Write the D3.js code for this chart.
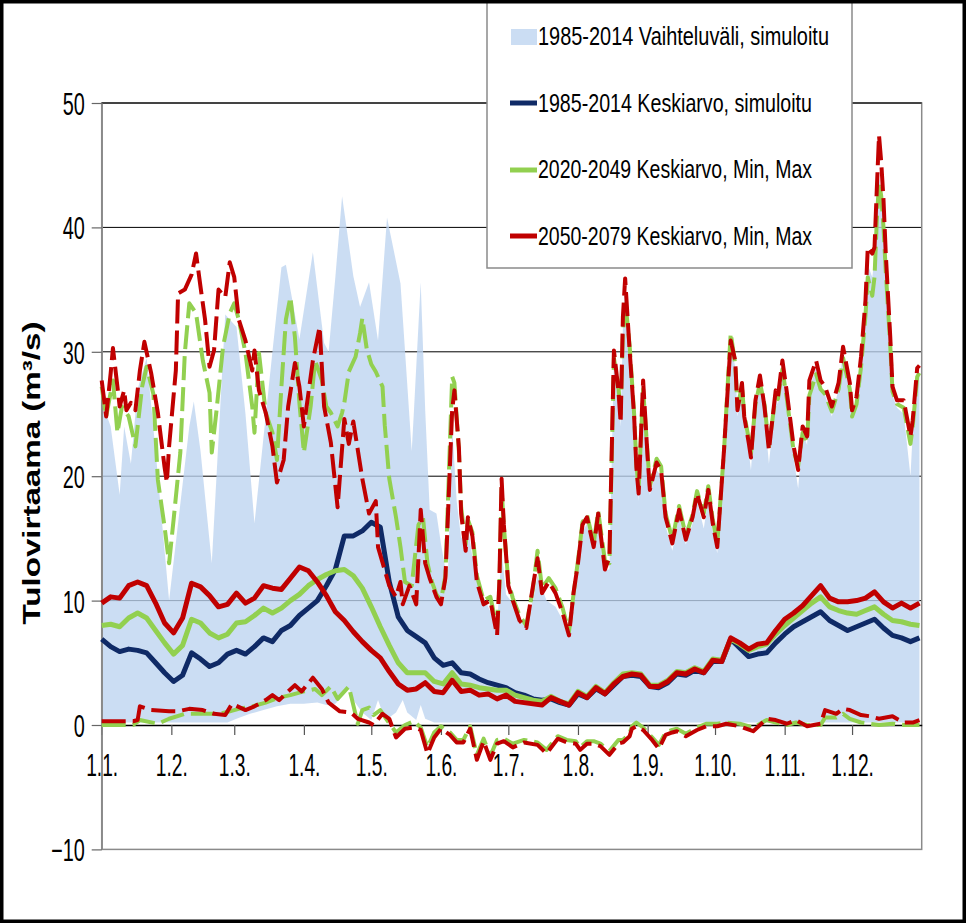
<!DOCTYPE html>
<html><head><meta charset="utf-8">
<script src="https://cdn.jsdelivr.net/npm/d3@7"></script>
<style>html,body{margin:0;padding:0;background:#fff;} svg{display:block;}</style>
</head><body><svg id="c" width="968" height="923"></svg>
<script>
// ---------- data ----------
const monthDays = [0,31,59,90,120,151,181,212,243,273,304,334];
const monthLabels = ["1.1.","1.2.","1.3.","1.4.","1.5.","1.6.","1.7.","1.8.","1.9.","1.10.","1.11.","1.12."];
const yTicks = [-10,0,10,20,30,40,50];
const gridValues = [10,20,30,40,50];
const legendLabels = ["1985-2014 Vaihteluväli, simuloitu","1985-2014 Keskiarvo, simuloitu","2020-2049 Keskiarvo, Min, Max","2050-2079 Keskiarvo, Min, Max"];

const meanDays = [0,4,8,12,16,20,24,28,32,36,
  40,44,48,52,56,60,64,68,72,76,
  80,84,88,92,96,100,104,108,112,116,
  120,124,128,132,136,140,144,148,152,156,
  160,164,168,172,176,180,184,188,192,196,
  200,204,208,212,216,220,224,228,232,236,
  240,244,248,252,256,260,264,268,272,276,
  280,284,288,292,296,300,304,308,312,316,
  320,324,328,332,336,340,344,348,352,356,
  360,364];

const blueMean = [6.9,6.3,5.9,6.1,6.0,5.8,5.0,4.2,3.5,4.0,
  5.8,5.3,4.7,5.0,5.7,6.0,5.7,6.3,7.0,6.7,
  7.6,8.0,8.8,9.4,10.0,11.2,12.5,15.2,15.2,15.6,
  16.3,15.9,11.5,8.7,7.6,7.1,6.6,5.4,4.8,5.0,
  4.2,4.1,3.7,3.4,3.2,3.0,2.6,2.4,2.1,2.0,
  2.1,1.8,1.6,2.5,2.2,2.9,2.5,3.2,3.9,4.0,
  3.9,3.1,3.0,3.4,4.1,4.0,4.4,4.2,5.1,5.1,
  6.9,6.2,5.5,5.7,5.8,6.6,7.3,7.9,8.3,8.7,
  9.1,8.4,8.0,7.6,7.9,8.2,8.5,7.8,7.2,7.0,
  6.7,7.0];

const greenMean = [8.0,8.1,7.9,8.6,9.0,8.6,7.6,6.6,5.7,6.4,
  8.5,8.2,7.4,7.0,7.3,8.2,8.3,8.8,9.4,9.0,
  9.4,10.0,10.5,11.2,11.7,12.1,12.4,12.5,12.0,11.0,
  9.5,7.9,6.4,5.0,4.2,4.2,4.2,3.5,3.3,4.2,
  3.3,3.2,3.0,2.9,2.8,2.8,2.4,2.2,2.0,1.9,
  2.3,1.9,1.7,2.7,2.3,3.1,2.6,3.4,4.1,4.2,
  4.1,3.2,3.2,3.6,4.3,4.2,4.6,4.3,5.3,5.2,
  6.9,6.5,6.0,6.3,6.5,7.3,8.0,8.6,9.2,9.8,
  10.3,9.5,9.2,9.0,8.9,9.2,9.5,8.9,8.4,8.3,
  8.1,8.0];

const redMean = [9.8,10.3,10.2,11.2,11.5,11.2,9.8,8.2,7.4,8.6,
  11.4,11.1,10.4,9.5,9.7,10.6,9.8,10.2,11.2,11.0,
  10.9,11.8,12.7,12.4,11.5,10.4,9.1,8.4,7.5,6.7,
  6.0,5.4,4.3,3.3,2.8,2.9,3.4,2.7,2.6,3.6,
  2.7,2.8,2.4,2.5,2.1,2.4,1.9,1.8,1.7,1.6,
  2.2,1.9,1.6,2.6,2.2,3.0,2.5,3.3,3.9,4.1,
  4.0,3.1,3.1,3.5,4.2,4.1,4.5,4.2,5.2,5.1,
  7.0,6.6,6.1,6.5,6.6,7.6,8.5,9.0,9.6,10.4,
  11.2,10.2,9.9,9.9,10.0,10.2,10.7,9.9,9.4,9.8,
  9.4,9.8];

// [day, value] pairs
const rangeMax = [[0,26],[4,24],[8,18.5],[10,24],[13,21],[16,27],[20,29.5],[24,22],[30,10.0],[39,24],[41,26],[44,22],[49,13],[55,33],[60,32],[64,25],[68,16.2],[76,30],[80,36.8],[82,37],[88,31],[94,38],[99,30.7],[101,30],[104,36],[107,42.5],[112,36.1],[115,33.6],[119,35.6],[123,30.9],[127,40.8],[133,35.5],[138,22.0],[139,25.3],[142,35.6],[144,25.3],[146,17.3],[149,17.0],[151,14.6],[154,11.5],[156,24],[158,18],[160,15],[163,16],[165,13.5],[168,11],[172,9.5],[176,8],[178,14],[180,10.5],[184,9.5],[188,8],[192,10],[194,12],[198,10],[202,9.5],[205,8.5],[208,7],[212,12.5],[214,15.5],[216,16.2],[219,14],[221,16.5],[224,12.5],[226,12.5],[228,29.5],[230,26.5],[231,24],[232,32],[233,35.3],[235,29.5],[237,24],[239,18],[241,27],[243,21],[244,18.5],[247,20.5],[249,20],[251,16],[254,14],[257,16.8],[260,14.5],[263,16.2],[265,18],[268,15.8],[270,18.2],[272,15.6],[274,13.8],[277,21.5],[279,27.5],[280,30.5],[282,28.8],[283,24.8],[285,27],[286,24.3],[288,22],[289,20.5],[291,25.5],[293,27.5],[295,25],[297,21],[300,26.3],[301,25.8],[303,28.8],[305,26.2],[308,21.5],[310,19],[312,23.5],[314,22.5],[315,27],[318,28.8],[320,27],[322,26.5],[325,24.8],[328,27],[330,30],[333,27],[334,24.8],[336,25.8],[338,29],[340,33.5],[341,37],[343,36],[344,37.5],[345,42],[346,44],[347,43],[348,40],[349,36],[351,30],[352,26.5],[354,25.5],[357,25],[360,20],[361,23.5],[363,28],[364,28]];

const rangeMin = [[0,0.2],[56,0.2],[60,0.5],[66,0.9],[72,1.2],[78,1.5],[84,1.7],[90,1.7],[96,1.8],[100,1.6],[104,1.7],[108,2.5],[110,3.0],[112,2.0],[116,1.0],[120,0.4],[123,2.0],[125,1.0],[128,0.6],[131,1.0],[134,2.0],[136,1.0],[140,0.4],[142,1.6],[144,0.5],[148,0.2],[200,0.2],[260,0.2],[364,0.2]];

const greenMax = [[0,27.2],[2,24.8],[5,27.7],[7,23.5],[9,25.6],[12,24.8],[15,22.4],[18,27.2],[20,28.8],[23,26.6],[25,19.7],[28,15.9],[30,13.0],[32,16.5],[35,21.9],[37,29.9],[39,33.9],[42,33.1],[45,29.3],[48,26.7],[49,21.9],[51,25.1],[54,30.4],[57,33.1],[59,33.9],[61,32.6],[64,29.9],[67,25.6],[68,23.5],[70,29.9],[73,25.1],[76,23.5],[78,21.3],[80,27.2],[82,32.6],[84,34.4],[86,31.2],[88,25.9],[90,21.9],[93,25.6],[95,29.3],[98,27.7],[100,25.6],[102,25.1],[105,24.0],[107,25.1],[108,25.9],[110,28.4],[113,29.6],[115,31.5],[116,32.7],[118,30.2],[120,29.0],[122,28.4],[125,27.2],[126,24.1],[128,19.8],[131,16.7],[133,14.3],[135,11.5],[138,11.2],[141,16.1],[143,16.7],[145,13.0],[147,11.5],[149,10.5],[151,10.0],[153,12.0],[156,28.0],[157,27.5],[159,22.0],[160,17.5],[162,14.5],[163,16.5],[165,15.5],[167,12.0],[170,10.0],[173,10.3],[176,7.8],[177,11.0],[178,19.0],[179,16.0],[181,11.5],[183,10.2],[186,8.8],[189,8.0],[192,11.0],[194,14.0],[196,11.0],[199,11.8],[202,11.0],[205,9.5],[208,7.5],[210,10.5],[212,13.2],[214,16.3],[216,16.9],[219,14.6],[221,17.2],[224,13.2],[226,13.0],[228,29.5],[230,27.2],[231,25.0],[232,31.5],[233,34.2],[235,30.5],[237,25.0],[238,21.0],[239,19.0],[241,27.0],[243,21.8],[244,19.2],[247,21.4],[249,20.8],[251,17.0],[254,14.9],[257,17.6],[260,15.2],[263,16.9],[265,18.8],[268,17.0],[270,19.2],[272,16.5],[274,14.6],[277,22.0],[279,28.5],[280,31.5],[282,29.0],[283,25.6],[285,27.2],[286,25.0],[288,23.0],[289,21.8],[291,25.8],[293,27.5],[295,25.8],[297,22.4],[300,26.5],[301,26.2],[303,28.6],[305,26.2],[308,22.0],[310,20.8],[312,23.5],[314,22.8],[315,26.5],[318,28.2],[320,27.0],[322,26.6],[325,25.2],[328,27.0],[330,29.5],[333,27.0],[334,24.8],[336,25.8],[338,28.8],[340,33.0],[341,36.0],[343,34.5],[344,36.0],[345,40.5],[346,43.6],[347,42.5],[348,40.0],[349,36.5],[351,30.5],[352,26.8],[354,25.8],[357,25.5],[360,22.6],[361,24.0],[363,28.0],[364,28.3]];

const redMax = [[0,27.7],[2,24.8],[4,28.3],[5,30.3],[7,27.2],[8,25.6],[10,26.9],[11,25.3],[13,25.9],[15,25.3],[17,28.5],[19,30.8],[22,28.3],[25,25.1],[28,20.7],[29,19.5],[30,22.4],[33,28.5],[34,34.7],[37,35],[40,36.2],[42,37.9],[44,35.2],[46,32.6],[48,28.8],[50,30.1],[52,35],[55,34.4],[57,37.2],[59,36],[61,32.6],[64,30.9],[67,28.5],[68,30.1],[70,26.9],[73,25.1],[76,22.4],[78,19.5],[81,21.3],[83,25.6],[86,29.1],[88,27.2],[90,24],[94,29.3],[97,32],[99,25.6],[102,22.7],[105,17.5],[108,24.6],[110,22.6],[112,24.4],[116,19.8],[119,17.0],[122,18.0],[123,14.3],[128,11.2],[131,10.3],[133,11.5],[134,9.7],[137,11.2],[140,9.7],[142,17.3],[144,13.0],[146,11.8],[149,10.3],[151,9.7],[153,11.8],[156,25.3],[157,26.9],[159,22.3],[160,17.0],[162,14.0],[163,16.7],[165,15.2],[167,11.5],[170,9.7],[173,10.0],[176,7.2],[177,11.5],[178,19.8],[179,16.1],[181,11.2],[183,10.0],[186,8.4],[189,7.8],[192,11.2],[194,13.4],[196,10.6],[199,11.5],[202,10.6],[205,9.1],[208,7.2],[210,10.6],[212,13.0],[214,16.1],[216,16.7],[219,14.3],[221,17.0],[224,12.5],[226,13.5],[228,30.1],[230,26.9],[231,24.3],[232,32.8],[233,35.9],[235,30.1],[237,24.8],[238,20.7],[239,18.6],[241,27.7],[243,21.5],[244,18.9],[247,21.1],[249,20.5],[251,16.7],[254,14.6],[257,17.3],[260,14.9],[263,16.7],[265,18.6],[268,16.7],[270,18.9],[272,16.2],[274,14.3],[277,22.1],[279,28.0],[280,30.9],[282,29.3],[283,25.3],[285,27.5],[286,24.8],[288,22.7],[289,21.5],[291,26.1],[293,28.1],[295,25.6],[297,22.1],[300,26.9],[301,26.4],[303,29.3],[305,26.7],[308,22.4],[310,20.5],[312,24.0],[314,23.2],[315,27.7],[318,29.3],[320,27.7],[322,27.2],[325,25.6],[328,27.5],[330,30.4],[333,27.5],[334,25.3],[336,26.4],[338,29.6],[340,34.2],[341,38.4],[343,37.9],[344,38.4],[345,43.0],[346,47.4],[347,45.2],[348,42.2],[349,37.9],[351,31.2],[352,27.2],[354,26.1],[357,26.1],[360,23.2],[361,24.5],[363,28.7],[364,28.9]];

const greenMin = [[0,0.0],[14,0.0],[17,0.4],[25,0.1],[30,0.5],[37,0.9],[45,0.9],[52,0.9],[57,1.1],[61,1.3],[67,1.5],[73,1.8],[79,2.2],[84,2.4],[90,2.7],[95,2.9],[98,2.4],[102,3.1],[105,2.1],[110,3.1],[112,1.6],[114,0.1],[116,1.2],[119,1.4],[121,0.8],[124,1.2],[127,0.4],[131,-0.6],[135,0.0],[139,0.3],[142,-0.2],[145,-1.8],[148,-0.6],[151,-0.1],[155,-0.6],[158,-1.2],[161,-1.2],[164,-0.1],[167,-2.4],[170,-1.1],[173,-2.5],[176,-1.2],[179,-1.1],[183,-1.5],[188,-1.2],[194,-1.4],[198,-2.0],[203,-0.9],[207,-1.2],[211,-1.3],[213,-1.8],[216,-1.3],[219,-1.3],[222,-1.5],[226,-2.1],[230,-1.2],[232,-1.2],[235,-0.7],[236,-0.1],[238,0.2],[241,-0.2],[245,-1.0],[248,-1.6],[251,-0.6],[254,-0.4],[256,-0.3],[260,-0.7],[265,-0.2],[269,0.1],[274,0.1],[278,0.2],[284,0.1],[290,-0.2],[296,0.4],[300,0.2],[305,0.0],[309,0.2],[314,0.0],[320,0.0],[322,0.6],[327,0.6],[330,0.9],[333,0.5],[338,0.2],[342,0.1],[346,0.0],[352,0.1],[357,0.0],[364,0.0]];

const redMin = [[0,0.3],[14,0.3],[16,0.4],[17,1.5],[22,1.2],[30,1.1],[34,1.1],[39,1.3],[45,1.2],[50,0.9],[55,0.8],[58,1.7],[64,1.2],[68,1.5],[73,2.0],[76,2.4],[79,2.0],[83,2.7],[86,3.2],[89,2.7],[94,3.8],[98,2.9],[101,1.8],[106,1.1],[111,1.0],[114,0.5],[119,0.2],[121,0.0],[125,0.9],[128,0.5],[131,-1.0],[135,-0.3],[139,-0.2],[142,-0.4],[145,-2.3],[148,-1.0],[151,-0.3],[155,-0.8],[158,-1.4],[161,-1.4],[164,-0.3],[167,-2.8],[170,-1.3],[173,-2.8],[176,-1.5],[179,-1.3],[183,-1.8],[188,-1.4],[194,-1.6],[198,-2.3],[203,-1.1],[207,-1.4],[211,-1.5],[213,-2.0],[216,-1.5],[219,-1.5],[222,-1.7],[226,-2.4],[230,-1.5],[232,-1.4],[235,-0.9],[236,-0.3],[238,-0.1],[241,-0.4],[245,-1.2],[248,-1.9],[251,-0.8],[254,-0.6],[256,-0.5],[260,-0.9],[265,-0.4],[269,-0.1],[274,-0.1],[278,0.1],[284,-0.1],[290,-0.5],[296,0.5],[300,0.4],[305,0.1],[309,0.4],[314,-0.1],[320,0.1],[322,1.2],[327,0.9],[330,1.3],[333,1.2],[338,0.8],[342,0.7],[346,0.5],[352,0.7],[357,0.2],[361,0.2],[364,0.4]];

// ---------- drawing ----------
const COL_AREA = "#bdd3ef", COL_BLUE = "#0f2a66", COL_GREEN = "#92d050", COL_RED = "#c00000";
const svg = d3.select("#c");
const PL = 101.7, PR = 921.7, PT = 103, PB = 849.4;
const x = d3.scaleLinear().domain([0,365]).range([PL,PR]);
const y = d3.scaleLinear().domain([-10,50]).range([PB,PT]);
const FONT = "'Liberation Sans', Arial, sans-serif";

// gridlines
svg.append("g").selectAll("line").data(gridValues).join("line")
  .attr("x1",PL).attr("x2",PR).attr("y1",d=>y(d)).attr("y2",d=>y(d))
  .attr("stroke","#000").attr("stroke-width",1);

// range area (polygon: max forward, min backward)
const poly = rangeMax.concat(rangeMin.slice().reverse());
svg.append("path")
  .attr("d", d3.line().x(d=>x(d[0])).y(d=>y(d[1]))(poly) + "Z")
  .attr("fill",COL_AREA).attr("fill-opacity",0.78).attr("stroke","none");

// plot frame
svg.append("rect").attr("x",PL).attr("y",PT).attr("width",PR-PL).attr("height",PB-PT)
  .attr("fill","none").attr("stroke","#8a8a8a").attr("stroke-width",1.5);
svg.append("line").attr("x1",PL).attr("x2",PR).attr("y1",PT).attr("y2",PT)
  .attr("stroke","#000").attr("stroke-width",1.2);

// x axis at zero
const xAxis = d3.axisBottom(x).tickValues(monthDays).tickFormat((d,i)=>monthLabels[i])
  .tickSize(10).tickSizeOuter(0);
const gx = svg.append("g").attr("transform",`translate(0,${y(0)})`).call(xAxis);
gx.select(".domain").attr("stroke","#000").attr("stroke-width",1.4);
gx.selectAll(".tick line").attr("stroke","#555").attr("stroke-width",1.2);
gx.selectAll(".tick text").attr("y",0).attr("dy",0)
  .attr("transform","translate(0,51) scale(0.6,1)")
  .attr("font-family",FONT).attr("font-size",32).attr("fill","#000");

// y axis
const yAxis = d3.axisLeft(y).tickValues(yTicks).tickFormat(d3.format("d")).tickSize(10).tickSizeOuter(0);
const gy = svg.append("g").attr("transform",`translate(${PL},0)`).call(yAxis);
gy.select(".domain").attr("stroke","#8a8a8a").attr("stroke-width",1.5);
gy.selectAll(".tick line").attr("stroke","#666").attr("stroke-width",1.2);
gy.selectAll(".tick text").attr("x",0).attr("dy",0)
  .attr("transform","translate(-17,11.5) scale(0.64,1)")
  .attr("font-family",FONT).attr("font-size",31).attr("fill","#000");

// lines
const lineP = d3.line().x(d=>x(d[0])).y(d=>y(d[1]));
const meanLine = vals => lineP(meanDays.map((d,i)=>[d, vals[i]]));
const plot = svg.append("g");
function drawMean(vals,col){
  plot.append("path").attr("d",meanLine(vals)).attr("fill","none")
    .attr("stroke",col).attr("stroke-width",5).attr("stroke-linejoin","round");
}
function drawDash(pts,col){
  plot.append("path").attr("d",lineP(pts)).attr("fill","none")
    .attr("stroke",col).attr("stroke-width",4).attr("stroke-dasharray","24,7")
    .attr("stroke-linejoin","round");
}
drawMean(blueMean, COL_BLUE);
drawMean(greenMean, COL_GREEN);
drawDash(greenMin, COL_GREEN);
drawDash(greenMax, COL_GREEN);
drawMean(redMean, COL_RED);
drawDash(redMin, COL_RED);
drawDash(redMax, COL_RED);

// y title
svg.append("text").attr("transform","translate(40,473) rotate(-90)")
  .attr("text-anchor","middle").attr("font-family",FONT).attr("font-weight","bold")
  .attr("font-size",24).attr("textLength",303).attr("lengthAdjust","spacingAndGlyphs")
  .text("Tulovirtaama (m³/s)");

// legend
const lg = svg.append("g");
lg.append("rect").attr("x",487).attr("y",-4).attr("width",365).attr("height",272)
  .attr("fill","#fff").attr("stroke","#8a8a8a").attr("stroke-width",1.5);
const legY = [37, 103, 170, 236];
const legBase = [45, 112, 178, 245];
const legLen = [291, 274, 274, 274];
lg.append("rect").attr("x",511).attr("y",legY[0]-8).attr("width",26).attr("height",16)
  .attr("fill",COL_AREA).attr("fill-opacity",0.78);
[COL_BLUE, COL_GREEN, COL_RED].forEach((c,i)=>{
  lg.append("line").attr("x1",510).attr("x2",537).attr("y1",legY[i+1]).attr("y2",legY[i+1])
    .attr("stroke",c).attr("stroke-width",5);
});
lg.selectAll("text.leg").data(legendLabels).join("text").attr("class","leg")
  .attr("x",538).attr("y",(d,i)=>legBase[i])
  .attr("font-family",FONT).attr("font-size",25)
  .attr("textLength",(d,i)=>legLen[i]).attr("lengthAdjust","spacingAndGlyphs")
  .text(d=>d);

// outer frame
svg.append("rect").attr("x",1.75).attr("y",1.75).attr("width",962.5).attr("height",919.5)
  .attr("fill","none").attr("stroke","#000").attr("stroke-width",3.5);
</script>
</body></html>
